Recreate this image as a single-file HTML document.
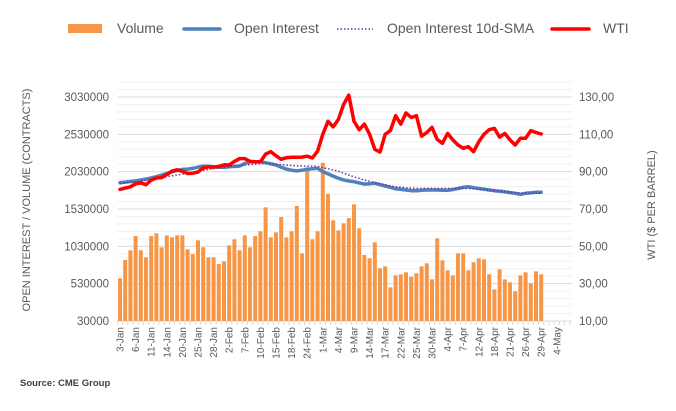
<!DOCTYPE html>
<html><head><meta charset="utf-8"><style>
body{margin:0;background:#fff;font-family:"Liberation Sans",sans-serif;}
svg text{font-family:"Liberation Sans",sans-serif;fill:#595959;}
</style></head><body>
<svg id="c" width="676" height="406" xmlns="http://www.w3.org/2000/svg">
<g>
<rect x="68" y="24" width="34" height="9" fill="#f79646"/>
<text x="117" y="33" font-size="14">Volume</text>
<line x1="184" y1="29" x2="220" y2="29" stroke="#4f81bd" stroke-width="3.5" stroke-linecap="round"/>
<text x="234" y="33" font-size="14">Open Interest</text>
<line x1="337" y1="29" x2="373" y2="29" stroke="#7030a0" stroke-width="1.5" stroke-dasharray="1.5,2"/>
<text x="387" y="33" font-size="14">Open Interest 10d-SMA</text>
<line x1="552" y1="29" x2="589" y2="29" stroke="#ff0000" stroke-width="3.5" stroke-linecap="round"/>
<text x="603" y="33" font-size="14">WTI</text>
</g>
<g id="grid"></g><g id="bars"></g><g id="lines"></g><g id="axes"></g>
<text transform="translate(30,200) rotate(-90)" text-anchor="middle" font-size="11">OPEN INTEREST / VOLUME (CONTRACTS)</text>
<text transform="translate(655,205) rotate(-90)" text-anchor="middle" font-size="11">WTI ($ PER BARREL)</text>
<text x="20" y="386" font-size="9.5" font-weight="bold" style="fill:#404040">Source: CME Group</text>
</svg>
<script>
const xLabels=["3-Jan","6-Jan","11-Jan","14-Jan","20-Jan","25-Jan","28-Jan","2-Feb","7-Feb","10-Feb","15-Feb","18-Feb","24-Feb","1-Mar","4-Mar","9-Mar","14-Mar","17-Mar","22-Mar","25-Mar","30-Mar","4-Apr","7-Apr","12-Apr","18-Apr","21-Apr","26-Apr","29-Apr","4-May"];
const leftTicks=[30000,530000,1030000,1530000,2030000,2530000,3030000];
const rightTicks=[10,30,50,70,90,110,130];
const volume=[602,847,977,1168,977,883,1168,1204,1017,1177,1151,1177,1177,990,927,1111,1017,883,883,793,829,1043,1124,977,1177,1017,1168,1231,1552,1151,1218,1423,1151,1231,1570,936,2088,1124,1231,2150,1731,1378,1244,1338,1409,1592,1271,914,870,1084,736,762,481,642,655,682,623,669,762,803,588,1137,843,709,642,936,936,709,816,870,856,655,454,722,588,548,428,642,682,535,695,655];
const openInterest=[1882,1890,1898,1905,1918,1930,1945,1962,1985,2005,2029,2045,2061,2065,2075,2090,2105,2100,2095,2090,2088,2095,2100,2105,2140,2163,2163,2163,2150,2135,2119,2090,2065,2050,2040,2050,2061,2070,2075,2030,2000,1971,1941,1920,1905,1895,1880,1864,1868,1874,1855,1838,1820,1800,1793,1785,1775,1775,1780,1785,1785,1785,1782,1780,1790,1805,1820,1828,1815,1805,1795,1785,1775,1768,1761,1750,1740,1725,1740,1745,1755,1755];
const oiSma=[1870,1878,1886,1895,1905,1915,1925,1935,1950,1962,1975,1985,1998,2010,2022,2035,2048,2060,2072,2080,2088,2095,2108,2115,2119,2125,2132,2138,2140,2138,2130,2125,2118,2112,2108,2105,2105,2105,2100,2085,2068,2052,2035,2010,1985,1960,1940,1918,1900,1885,1870,1855,1840,1828,1822,1815,1810,1806,1804,1806,1806,1805,1804,1804,1805,1806,1806,1805,1800,1795,1790,1785,1778,1770,1761,1755,1750,1745,1742,1740,1740,1740];
const wti=[80.5,81.2,81.9,83.5,84,83,85.5,86.6,86.8,88.5,90.3,91,90.2,89,89.2,89.8,92,92.6,92.4,92.8,93.6,93.6,95.5,97,97,95.5,95.3,95.3,99.4,100.7,98.5,96.6,97.5,97.7,97.7,97.8,98.3,97.3,101,110,117,114,118,126,131,117,112.5,115.5,110,102,100.5,110,112,120,115.5,121.5,119,120,109,111,113.7,107.3,105.2,110.5,107,104.3,102.5,103.4,100.7,106,110,112.5,113.2,108.5,110.5,107,104.3,107.9,107.9,112,111,110.2];

const NS="http://www.w3.org/2000/svg";
const X0=117.4,X1=572,Y0=321,Y1=97,TOPP=82,SW=5.2,SLOTS=Math.floor((X1-X0)/SW);
const xc=i=>X0+(i+0.5)*SW;
const yL=v=>Y0-(v-30000)/3000000*(Y0-Y1);
const yR=v=>Y0-(v-10)/120*(Y0-Y1);
function mk(t,a,p){const e=document.createElementNS(NS,t);for(const k in a)e.setAttribute(k,a[k]);p.appendChild(e);return e;}
const grid=document.getElementById('grid'),bars=document.getElementById('bars'),lines=document.getElementById('lines'),axes=document.getElementById('axes');
const step=(Y0-Y1)/6/5;
for(let k=0;k*step<=Y0-TOPP+0.1;k++){const y=Y0-k*step;
 const g=mk('line',{x1:X0,x2:X1,y1:y,y2:y,stroke:k%5===0?'#d9d9d9':'#f0f0f0','stroke-width':1},grid);
 
 }
leftTicks.forEach(v=>{const t=mk('text',{x:109,y:yL(v)+4,'text-anchor':'end','font-size':11.5},axes);t.textContent=v;
 
 });
rightTicks.forEach(v=>{const t=mk('text',{x:579,y:yR(v)+4,'font-size':11.5},axes);t.textContent=v.toFixed(2).replace('.',',');
 
 });
for(let i=0;i<=SLOTS;i++){const x=X0+i*SW;mk('line',{x1:x,x2:x,y1:Y0,y2:Y0+4,stroke:'#d9d9d9'},axes);}
xLabels.forEach((l,j)=>{const i=j*3,x=xc(i)+3.5;const t=mk('text',{transform:`translate(${x},${Y0+6}) rotate(-90)`,'text-anchor':'end','font-size':10},axes);t.textContent=l;
 
 });
volume.forEach((v,i)=>{const y=yL(v*1000);const r=mk('rect',{x:xc(i)-2,y:y,width:4,height:Y0-y,fill:'#f79646'},bars);
 
 });
function path(arr,f){return arr.map((v,i)=>(i?'L':'M')+xc(i).toFixed(1)+','+f(v).toFixed(1)).join('');}
const oi=mk('path',{d:path(openInterest,v=>yL(v*1000)),fill:'none',stroke:'#4f81bd','stroke-width':3.5,'stroke-linejoin':'round','stroke-linecap':'round'},lines);


const sm=mk('path',{d:path(oiSma,v=>yL(v*1000)),fill:'none',stroke:'#7030a0','stroke-width':1.5,'stroke-dasharray':'1.5,2'},lines);


const w=mk('path',{d:path(wti,yR),fill:'none',stroke:'#ff0000','stroke-width':3.5,'stroke-linejoin':'round','stroke-linecap':'round'},lines);


</script>
</body></html>
